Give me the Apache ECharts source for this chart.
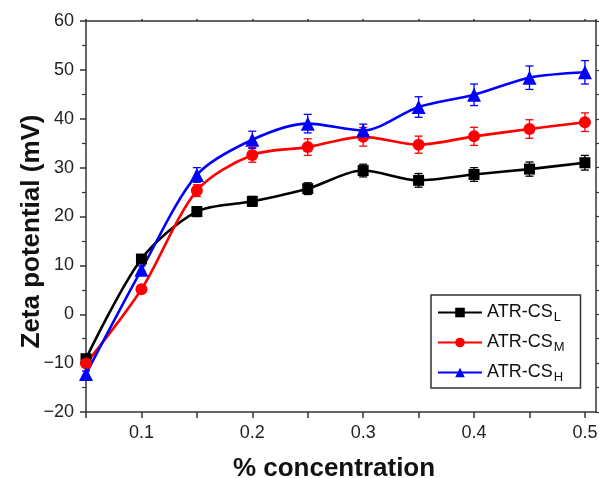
<!DOCTYPE html>
<html>
<head>
<meta charset="utf-8">
<script src="https://cdn.jsdelivr.net/npm/echarts@6/dist/echarts.min.js"></script>
<style>html,body{margin:0;padding:0;background:#fff}#c{width:599px;height:478px}</style>
</head>
<body>
<div id="c"></div>
<script>
const concentrations = [0.05, 0.10, 0.15, 0.20, 0.25, 0.30, 0.35, 0.40, 0.45, 0.50];
const seriesNames = ['ATR-CS_L', 'ATR-CS_M', 'ATR-CS_H'];
const seriesSubs = ['L', 'M', 'H'];
const valuesL = [-9.1, 11.3, 21.0, 23.1, 25.7, 29.4, 27.4, 28.6, 29.7, 31.0];
const valuesM = [-10.1, 5.1, 25.3, 32.6, 34.2, 36.3, 34.7, 36.4, 37.9, 39.3];
const valuesH = [-12.2, 9.1, 28.5, 35.7, 39.0, 37.6, 42.4, 44.9, 48.4, 49.5];
const errorsL = [0.5, 0.6, 1.0, 1.0, 1.2, 1.3, 1.4, 1.4, 1.45, 1.5];
const errorsM = [0.5, 0.6, 1.2, 1.5, 1.7, 1.9, 1.75, 1.85, 1.9, 1.9];
const errorsH = [0.6, 0.8, 1.5, 1.75, 1.9, 1.3, 2.1, 2.2, 2.4, 2.4];
const colors = ['#000000', '#ff0000', '#0000ff'];
const symbols = ['rect', 'circle', 'triangle'];
const yTicks = [-20, -10, 0, 10, 20, 30, 40, 50, 60];

const allValues = [valuesL, valuesM, valuesH];
const allErrors = [errorsL, errorsM, errorsH];

const chart = echarts.init(document.getElementById('c'));
const font = 'Liberation Sans, Arial, sans-serif';

const series = [];
allValues.forEach((vals, i) => {
  series.push({
    type: 'custom',
    name: seriesNames[i] + ' error',
    z: 2,
    data: concentrations.map((x, j) => [x, vals[j] - allErrors[i][j], vals[j] + allErrors[i][j]]),
    renderItem: (params, api) => {
      const lo = api.coord([api.value(0), api.value(1)]);
      const hi = api.coord([api.value(0), api.value(2)]);
      const w = 4;
      const style = { stroke: colors[i], lineWidth: 1.3 };
      return {
        type: 'group',
        children: [
          { type: 'line', shape: { x1: lo[0], y1: lo[1], x2: hi[0], y2: hi[1] }, style },
          { type: 'line', shape: { x1: lo[0] - w, y1: lo[1], x2: lo[0] + w, y2: lo[1] }, style },
          { type: 'line', shape: { x1: hi[0] - w, y1: hi[1], x2: hi[0] + w, y2: hi[1] }, style }
        ]
      };
    },
    encode: { x: 0, y: [1, 2] },
    silent: true
  });
  series.push({
    type: 'line',
    name: seriesNames[i],
    z: 3,
    data: concentrations.map((x, j) => [x, vals[j]]),
    smooth: 0.3,
    symbol: symbols[i],
    symbolSize: symbols[i] === 'triangle' ? 14 : (symbols[i] === 'rect' ? 11 : 12),
    lineStyle: { color: colors[i], width: 2.6 },
    itemStyle: { color: colors[i] },
    emphasis: { disabled: true }
  });
});

const option = {
  animation: false,
  backgroundColor: '#fff',
  grid: { left: 86, right: 3, top: 21, bottom: 66, containLabel: false, outerBoundsMode: 'none' },
  legend: {
    data: seriesNames,
    orient: 'vertical',
    left: 431,
    top: 295,
    itemWidth: 44,
    itemHeight: 12,
    itemGap: 7,
    padding: [6, 16, 4, 6],
    borderColor: '#333',
    borderWidth: 1.5,
    backgroundColor: '#fff',
    formatter: name => '{a|ATR-CS}{s|' + seriesSubs[seriesNames.indexOf(name)] + '}',
    textStyle: {
      fontFamily: font,
      color: '#111',
      rich: {
        a: { fontSize: 18, fontFamily: font, color: '#111', lineHeight: 20 },
        s: { fontSize: 13, fontFamily: font, color: '#111', padding: [10, 0, 0, 1], lineHeight: 20 }
      }
    }
  },
  xAxis: [{
    type: 'value',
    min: 0.05,
    max: 0.51,
    interval: 0.05,
    name: '% concentration',
    nameLocation: 'middle',
    nameGap: 44,
    nameMoveOverlap: false,
    nameTextStyle: { fontFamily: font, fontSize: 26, fontWeight: 'bold', color: '#111', padding: [0, 14, 0, 0] },
    axisLine: { onZero: false, lineStyle: { color: '#333', width: 1.5 } },
    axisTick: { length: 6, lineStyle: { color: '#333', width: 1.5 } },
    axisLabel: {
      fontFamily: font, fontSize: 18, color: '#222', margin: 12,
      showMaxLabel: false, showMinLabel: true,
      formatter: v => { const r = Math.round(v * 100); return r % 10 === 0 ? (r / 100).toFixed(1) : ''; }
    },
    splitLine: { show: false }
  }, {
    type: 'value',
    position: 'top',
    min: 0.05,
    max: 0.51,
    interval: 0.05,
    axisLine: { show: true, onZero: false, lineStyle: { color: '#333', width: 1.5 } },
    axisTick: { show: true, length: 2, lineStyle: { color: '#333', width: 1.5 } },
    axisLabel: { show: false },
    splitLine: { show: false }
  }],
  yAxis: [{
    type: 'value',
    min: -20,
    max: 60,
    interval: 10,
    name: 'Zeta potential (mV)',
    nameLocation: 'middle',
    nameGap: 41,
    nameMoveOverlap: false,
    nameTextStyle: { fontFamily: font, fontSize: 26, fontWeight: 'bold', color: '#111', padding: [0, 30, 0, 0] },
    axisLine: { show: true, onZero: false, lineStyle: { color: '#333', width: 1.5 } },
    axisTick: { length: 6, lineStyle: { color: '#333', width: 1.5 } },
    minorTick: { show: true, splitNumber: 2, length: 4, lineStyle: { color: '#333', width: 1.2 } },
    axisLabel: {
      fontFamily: font, fontSize: 18, color: '#222', margin: 12,
      formatter: v => yTicks.includes(v) ? String(v).replace('-', '\u2212') : ''
    },
    splitLine: { show: false }
  }, {
    type: 'value',
    position: 'right',
    min: -20,
    max: 60,
    interval: 10,
    axisLine: { show: true, onZero: false, lineStyle: { color: '#333', width: 1.5 } },
    axisTick: { show: true, length: 3, lineStyle: { color: '#333', width: 1.2 } },
    minorTick: { show: true, splitNumber: 2, length: 3, lineStyle: { color: '#333', width: 1.2 } },
    axisLabel: { show: false },
    splitLine: { show: false }
  }],
  series: series
};
chart.setOption(option);
</script>
</body>
</html>
